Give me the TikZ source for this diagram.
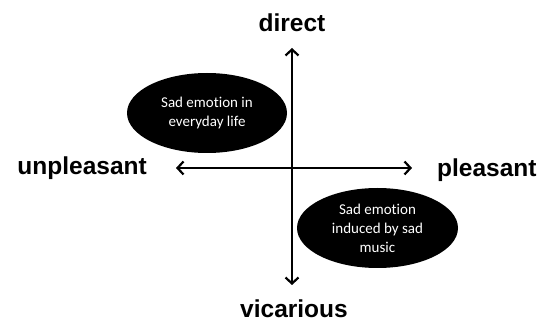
\documentclass[tikz,border=0pt]{standalone}
\usepackage{fontspec}
\setmainfont{Liberation Sans}
\newfontfamily\calibri[Ligatures=NoCommon]{Carlito}
\usetikzlibrary{shapes.geometric,arrows.meta}

\begin{document}
\begin{tikzpicture}[x=1pt, y=-1pt,
	axis/.style={{Straight Barb[length=6pt,width=13pt]}-{Straight Barb[length=6pt,width=13pt]}, line width=2.2pt},
	axislabel/.style={font=\fontsize{24.5}{28}\selectfont\bfseries, inner sep=0pt},
	blob/.style={ellipse, fill=black, text=white, inner sep=0pt, align=center,
		font=\calibri\fontsize{15}{19}\selectfont}]
					
					\useasboundingbox (0,0) rectangle (542,323);
					
					\coordinate (top) at (292,48);
					\coordinate (bottom) at (292,285);
					\coordinate (left) at (176,168);
					\coordinate (right) at (412,168);
					\draw[axis] (top) -- (bottom);
					\draw[axis] (left) -- (right);
					
					\node[axislabel, anchor=base] (direct) at (292,32) {direct};
					\node[axislabel, anchor=base] (vicarious) at (294,318) {vicarious};
					\node[axislabel, anchor=base east] (unpleasant) at (147,175) {unpleasant};
					\node[axislabel, anchor=base west] (pleasant) at (437,177) {pleasant};
					
					\node[blob, minimum width=160pt, minimum height=80pt] (everyday) at (207,113) {Sad emotion in\\everyday life};
					\node[blob, minimum width=161pt, minimum height=80pt] (music) at (377.5,228) {Sad emotion\\induced by sad\\music};
					\end{tikzpicture}
\end{document}
